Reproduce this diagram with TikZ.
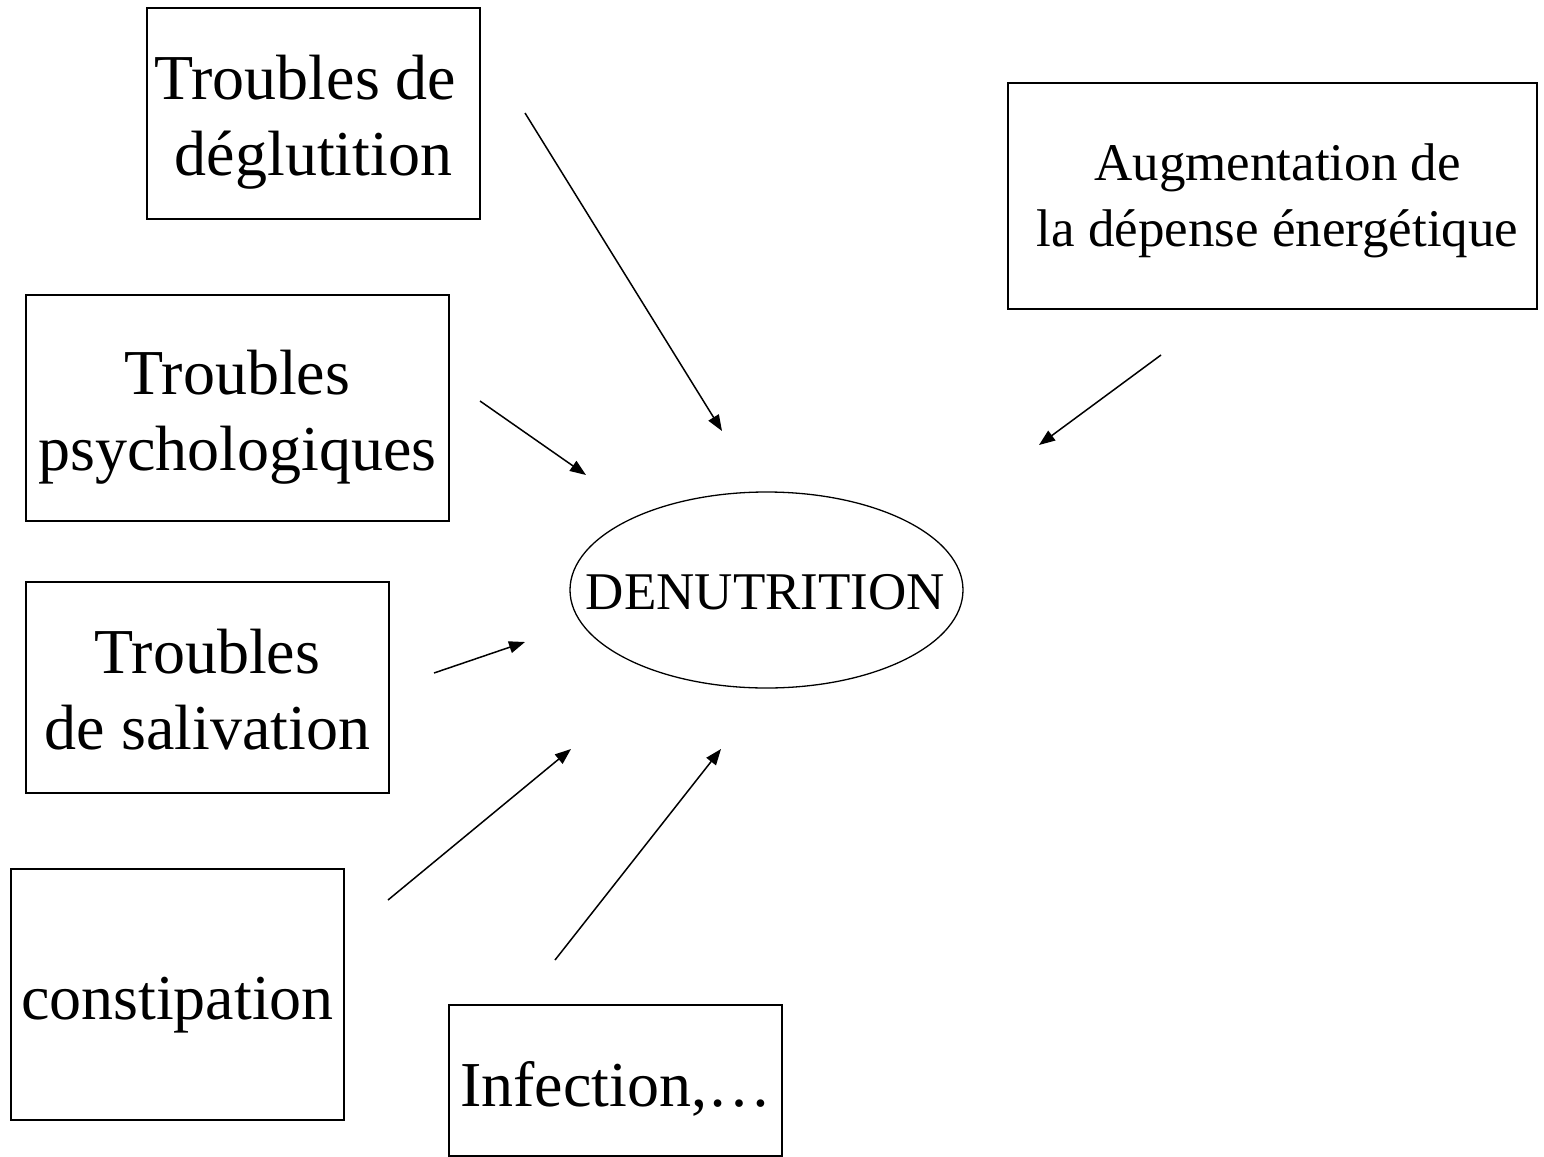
\documentclass[tikz,border=0pt]{standalone}
\usepackage{fontspec}
\setmainfont{Liberation Serif}
\usetikzlibrary{shapes.geometric,arrows.meta}
\begin{document}
\begin{tikzpicture}[x=1pt,y=-1pt,
  box/.style={draw,line width=1.6pt,inner sep=0pt},
  lbl/.style={inner sep=0pt,align=center,font=\fontsize{64}{76}\selectfont},
  arr/.style={line width=1.5pt,-{Triangle[length=16pt,width=12pt]}}]
\useasboundingbox (0,0) rectangle (1544,1156);
\node[box,minimum width=333pt,minimum height=211pt] (deg) at (313.5,113.5) {};
\node[lbl] (degt) at ([yshift=-9pt]deg.center) {Troubles de\hspace*{16pt}\\déglutition};
\node[box,minimum width=423pt,minimum height=226pt] (psy) at (237.5,408) {};
\node[lbl] (psyt) at ([yshift=-9pt]psy.center) {Troubles\\psychologiques};
\node[box,minimum width=363pt,minimum height=211pt] (sal) at (207.5,687.5) {};
\node[lbl] (salt) at ([yshift=-2pt]sal.center) {Troubles\\de salivation};
\node[box,minimum width=333pt,minimum height=251pt] (con) at (177.5,994.5) {};
\node[lbl] (cont) at ([yshift=-11pt]con.center) {constipation};
\node[box,minimum width=333pt,minimum height=151pt] (inf) at (615.5,1080.5) {};
\node[lbl] (inft) at ([yshift=-8pt]inf.center) {Infection,…};
\node[box,minimum width=529pt,minimum height=226pt] (aug) at (1272.5,196) {};
\node[lbl,font=\fontsize{53}{66}\selectfont] (augt) at ([xshift=5pt,yshift=-5pt]aug.center) {Augmentation de\\la dépense énergétique};
\node[draw,ellipse,line width=1.3pt,inner sep=0pt,minimum width=393pt,minimum height=196pt] (den) at (766.5,590) {};
\node[inner sep=0pt,font=\fontsize{53}{60}\selectfont] (dent) at ([xshift=-1pt,yshift=-2pt]den.center) {DENUTRITION};
\coordinate (a1s) at (525,113); \coordinate (a1e) at (722,431);
\coordinate (a2s) at (480,401); \coordinate (a2e) at (586,475);
\coordinate (a3s) at (434,673); \coordinate (a3e) at (525,642);
\coordinate (a4s) at (388,900); \coordinate (a4e) at (571,749);
\coordinate (a5s) at (555,960); \coordinate (a5e) at (721,749);
\coordinate (a6s) at (1161,355); \coordinate (a6e) at (1039,445);
\draw[arr] (a1s) -- (a1e);
\draw[arr] (a2s) -- (a2e);
\draw[arr] (a3s) -- (a3e);
\draw[arr] (a4s) -- (a4e);
\draw[arr] (a5s) -- (a5e);
\draw[arr] (a6s) -- (a6e);
\end{tikzpicture}
\end{document}
